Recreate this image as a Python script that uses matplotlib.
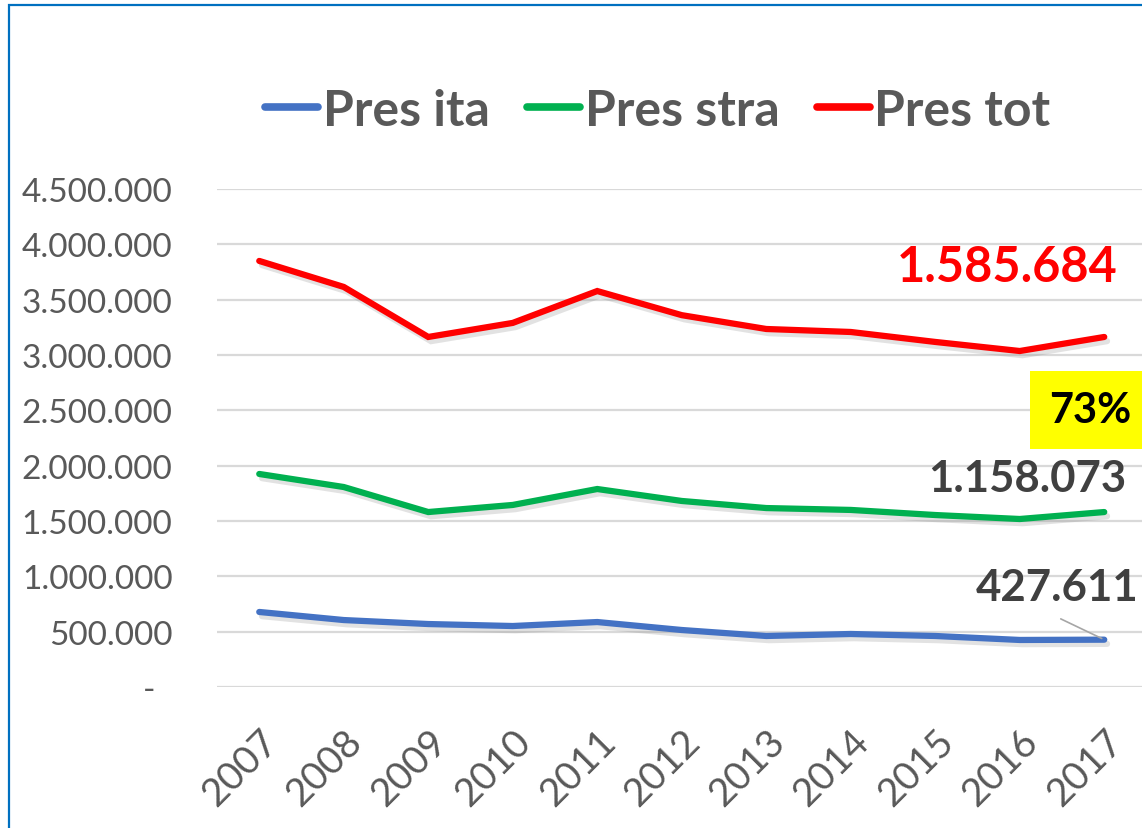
"""Presenze ita / stra / tot, 2007-2017."""

import matplotlib

matplotlib.use("Agg")

import matplotlib.patheffects as pe
import matplotlib.pyplot as plt
from matplotlib.patches import Rectangle
from matplotlib.ticker import FuncFormatter

years = ["2007", "2008", "2009", "2010", "2011", "2012",
         "2013", "2014", "2015", "2016", "2017"]
pres_ita = [678000, 605000, 569000, 551000, 587000, 515000,
            461000, 479000, 461000, 425000, 427611]
pres_stra = [1925000, 1807000, 1581000, 1645000, 1789000, 1681000,
             1617000, 1600000, 1554000, 1518000, 1581000]
pres_tot = [3850000, 3615000, 3163000, 3290000, 3578000, 3360000,
            3235000, 3208000, 3118000, 3036000, 3163000]
series_names = ["Pres ita", "Pres stra", "Pres tot"]
callouts = ["1.585.684", "1.158.073", "427.611"]
share_label = "73%"

FONT = ["Lato", "DejaVu Sans"]
GREY = "#595959"
DARK = "#404040"
COLORS = ["#4472C4", "#00B050", "#FF0000"]


def thousands(value, _pos):
    if value == 0:
        return "-  "
    return f"{int(value):,}".replace(",", ".")


def main() -> None:
    plt.rcParams["font.family"] = FONT

    fig = plt.figure(figsize=(11.42, 8.29), dpi=100)
    W, H = 1142, 829

    # blue outer frame of the original chart object
    fig.patches.append(Rectangle((9 / W, -0.1), 1.2, 1 - 6 / H + 0.1,
                                 transform=fig.transFigure, fill=False,
                                 edgecolor="#0070C0", linewidth=1.6))

    ax = fig.add_axes([217 / W, 1 - 688 / H, 929.5 / W, 498 / H])
    x = list(range(len(years)))
    shadow = [pe.SimpleLineShadow(offset=(2, -3), shadow_color="#8c8c8c", alpha=0.25),
              pe.Normal()]

    for values, name, color in zip([pres_ita, pres_stra, pres_tot], series_names, COLORS):
        ax.plot(x, values, color=color, linewidth=4.5, solid_capstyle="round",
                solid_joinstyle="miter", label=name, path_effects=shadow, zorder=3)

    ax.set_xlim(-0.5, len(years) - 0.5)
    ax.set_ylim(0, 4500000)
    ax.set_yticks(range(0, 4500001, 500000))
    ax.yaxis.set_major_formatter(FuncFormatter(thousands))
    ax.set_xticks(x)
    ax.set_xticklabels(years, rotation=45, ha="right", va="top", rotation_mode="anchor")
    ax.tick_params(axis="both", length=0, labelcolor=GREY)
    ax.tick_params(axis="y", pad=32, labelsize=24)
    ax.tick_params(axis="x", pad=26, labelsize=28)
    ax.grid(axis="y", color="#D9D9D9", linewidth=1.6)
    ax.set_axisbelow(True)
    for spine in ax.spines.values():
        spine.set_visible(False)

    legend_handles = [plt.Line2D([], [], color=c, linewidth=5.5, solid_capstyle="round")
                      for c in COLORS]
    leg = fig.legend(legend_handles, series_names, loc="center", ncol=3,
                     bbox_to_anchor=(658 / W, 1 - 111 / H), frameon=False,
                     handlelength=1.05, handletextpad=0.1, columnspacing=0.75,
                     prop={"family": FONT, "weight": "bold", "size": 36})
    for text in leg.get_texts():
        text.set_color(GREY)

    last = len(years) - 1
    ax.annotate(callouts[0], xy=(last, pres_tot[last]), xytext=(-97, 70),
                textcoords="offset pixels", ha="center", va="center",
                fontsize=35, fontweight="bold", color="#FF0000")
    ax.annotate(callouts[1], xy=(last, pres_stra[last]), xytext=(-77, 34),
                textcoords="offset pixels", ha="center", va="center",
                fontsize=31.5, fontweight="bold", color=DARK)
    ax.annotate(callouts[2], xy=(last, pres_ita[last]), xytext=(-47, 53),
                textcoords="offset pixels", ha="center", va="center",
                fontsize=31.5, fontweight="bold", color=DARK)
    ax.annotate("", xy=(last, pres_ita[last]), xytext=(-46, 22),
                textcoords="offset pixels",
                arrowprops={"arrowstyle": "-", "color": "#A6A6A6", "linewidth": 1.2})

    fig.patches.append(Rectangle((1030 / W, 1 - 450 / H), 0.2, 78 / H,
                                 transform=fig.transFigure, facecolor="#FFFF00",
                                 edgecolor="none", zorder=4))
    fig.text(1090 / W, 1 - 411 / H, share_label, ha="center", va="center",
             fontsize=30, fontweight="bold", color="black", zorder=5)

    fig.savefig("out.png", dpi=100)
    plt.close(fig)


if __name__ == "__main__":
    main()
